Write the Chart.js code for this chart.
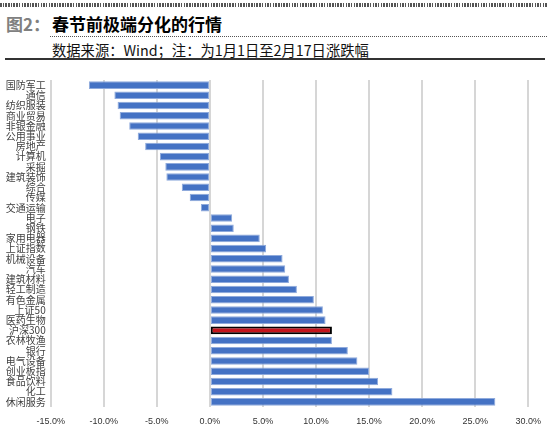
<!DOCTYPE html>
<html>
<head>
<meta charset="utf-8">
<script src="https://cdn.jsdelivr.net/npm/chart.js@4.4.0/dist/chart.umd.min.js"></script>
<style>
  html, body { margin: 0; padding: 0; background: #fff; }
  body { width: 550px; height: 433px; position: relative; overflow: hidden; font-family: "Noto Sans CJK SC", "Noto Sans", sans-serif; }
  #chart { position: absolute; left: 0; top: 0; z-index: 2; }
  .gl { position: absolute; width: 2px; background: #D6D6D6; z-index: 1; }
  .topline { position: absolute; left: 0; top: 3px; width: 547px; height: 4px;
    background: repeating-linear-gradient(90deg, #555 0px, #555 1.5px, #fff 1.5px, #fff 2.7px); }
  .fig { position: absolute; left: 6px; top: 13px; font-size: 17px; font-weight: bold; color: #808080; line-height: 22px; white-space: nowrap; }
  .title { position: absolute; left: 52px; top: 13px; font-size: 17px; font-weight: bold; color: #000; line-height: 22px; white-space: nowrap; }
  .dots { position: absolute; left: 50px; top: 36px; width: 497px; height: 0; border-top: 1px dotted #555; }
  .sub { position: absolute; left: 52px; top: 40px; font-size: 14.3px; color: #111; line-height: 20px; white-space: nowrap; }
  .solid { position: absolute; left: 5px; top: 58px; width: 540px; height: 2px; background: #333; }
</style>
</head>
<body>
<canvas id="chart" width="550" height="433"></canvas>
<div class="topline"></div>
<div class="fig">图2：</div>
<div class="title">春节前极端分化的行情</div>
<div class="dots"></div>
<div class="sub">数据来源：Wind；注：为1月1日至2月17日涨跌幅</div>
<div class="solid"></div>
<script>
const categories = ["国防军工","通信","纺织服装","商业贸易","非银金融","公用事业","房地产","计算机","采掘","建筑装饰","综合","传媒","交通运输","电子","钢铁","家用电器","上证指数","机械设备","汽车","建筑材料","轻工制造","有色金属","上证50","医药生物","沪深300","农林牧渔","银行","电气设备","创业板指","食品饮料","化工","休闲服务"];
const values = [-11.4,-9.0,-8.7,-8.5,-7.6,-6.8,-6.1,-4.7,-4.2,-4.1,-2.65,-1.9,-0.85,2.1,2.25,4.7,5.3,6.85,7.1,7.45,8.2,9.8,10.65,10.9,11.5,11.5,13.0,13.9,15.0,15.85,17.2,26.9];
const highlight = "沪深300";

const fills = categories.map(c => c === highlight ? "#C4141C" : "#4472C4");
const borders = categories.map(c => c === highlight ? "#000000" : "#8FAADC");
const bws = categories.map(c => c === highlight ? 2 : 1);

const chart = new Chart(document.getElementById("chart"), {
  type: "bar",
  data: {
    labels: categories,
    datasets: [{
      data: values,
      backgroundColor: fills,
      borderColor: borders,
      borderWidth: bws,
      borderSkipped: false,
      categoryPercentage: 1.0,
      barPercentage: 0.74
    }]
  },
  options: {
    indexAxis: "y",
    responsive: false,
    animation: false,
    layout: { padding: { top: 80, right: 21, bottom: 0, left: 0 } },
    plugins: { legend: { display: false }, tooltip: { enabled: false } },
    scales: {
      x: {
        type: "linear",
        min: -15, max: 30,
        ticks: {
          stepSize: 5,
          padding: 9,
          color: "#333",
          font: { family: "Liberation Sans, Arial, sans-serif", size: 9 },
          callback: v => Number(v).toFixed(1) + "%"
        },
        afterFit: s => { s.height = 26; },
        grid: { display: true, color: "#D6D6D6", lineWidth: 1.8, drawTicks: false },
        border: { display: false }
      },
      y: {
        afterFit: s => { s.width = 50.7; },
        grid: { display: false, drawTicks: false },
        border: { display: false },
        ticks: {
          padding: 5,
          autoSkip: false,
          color: "#404040",
          font: { family: "Noto Sans CJK SC", size: 10 }
        }
      }
    }
  }
});

// gridline backing layer, positioned from the chart's own x scale
const xs = chart.scales.x, area = chart.chartArea;
xs.ticks.forEach(t => {
  const d = document.createElement("div");
  d.className = "gl";
  d.style.left = (xs.getPixelForValue(t.value) - 1) + "px";
  d.style.top = area.top + "px";
  d.style.height = (area.bottom - area.top) + "px";
  document.body.appendChild(d);
});
</script>
</body>
</html>
